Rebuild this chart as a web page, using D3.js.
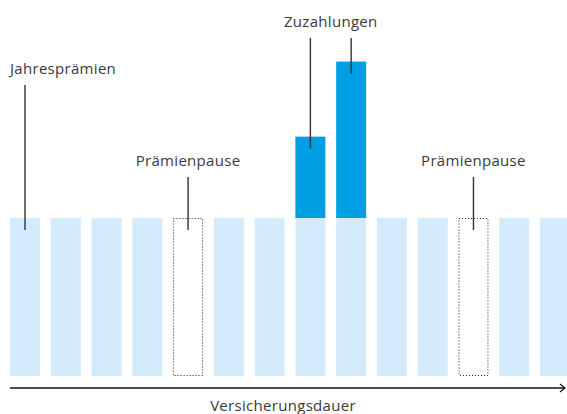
<!DOCTYPE html>
<html>
<head>
<meta charset="utf-8">
<script src="https://cdn.jsdelivr.net/npm/d3@7"></script>
<style>
  body { margin: 0; background: #fff; }
  text { font-family: "Open Sans", "Noto Sans", sans-serif; fill: #3a3a3a; }
</style>
</head>
<body>
<div id="chart"></div>
<script>
// years of the policy, one bar each
const years = d3.range(1, 15);
// yearly premium paid (1 = full premium, 0 = premium pause)
const premiums = [1, 1, 1, 1, 0, 1, 1, 1, 1, 1, 1, 0, 1, 1];
// extra payments on top of the premium
const topups = [0, 0, 0, 0, 0, 0, 0, 0.515, 0.99, 0, 0, 0, 0, 0];
// callouts: label text and the years they point to
const callouts = [
    {label: "Jahresprämien", years: [1], anchor: "start"},
    {label: "Prämienpause", years: [5], anchor: "middle"},
    {label: "Zuzahlungen", years: [8, 9], anchor: "middle"},
    {label: "Prämienpause", years: [12], anchor: "middle"}
];
const axisLabel = "Versicherungsdauer";

const width = 567, height = 414;

let svg = d3.select("#chart").append("svg")
    .attr("width", width)
    .attr("height", height);

let x = d3.scaleBand()
    .domain(years)
    .range([10, 570])
    .paddingInner(0.264)
    .paddingOuter(0);

let y = d3.scaleLinear()
    .domain([0, 2])
    .range([376, 60]);

let rows = years.map((yr, i) => ({year: yr, premium: premiums[i], topup: topups[i]}));

// premium bars
svg.selectAll(".premium")
    .data(rows.filter(d => d.premium > 0))
    .enter()
    .append("rect")
    .attr("class", "premium")
    .attr("x", d => x(d.year))
    .attr("width", x.bandwidth())
    .attr("y", d => y(d.premium))
    .attr("height", d => y(0) - y(d.premium))
    .attr("fill", "#d3ebfa");

// pause boxes (dotted outline)
svg.selectAll(".pause")
    .data(rows.filter(d => d.premium === 0))
    .enter()
    .append("rect")
    .attr("class", "pause")
    .attr("x", d => x(d.year) + 0.5)
    .attr("width", x.bandwidth() - 1)
    .attr("y", y(1) + 0.5)
    .attr("height", y(0) - y(1) - 1)
    .attr("fill", "none")
    .attr("stroke", "#222")
    .attr("stroke-width", 1)
    .attr("stroke-dasharray", "1,2");

// top-up bars stacked on the premium
svg.selectAll(".topup")
    .data(rows.filter(d => d.topup > 0))
    .enter()
    .append("rect")
    .attr("class", "topup")
    .attr("x", d => x(d.year))
    .attr("width", x.bandwidth())
    .attr("y", d => y(d.premium + d.topup))
    .attr("height", d => y(d.premium) - y(d.premium + d.topup))
    .attr("fill", "#009fe3");

// callout labels + leader lines
let labelY = {"Jahresprämien": 74, "Prämienpause": 166, "Zuzahlungen": 27};
callouts.forEach(c => {
    let ly = labelY[c.label];
    let cx = c.years.map(yr => x(yr) + x.bandwidth() / 2);
    let tx = c.anchor === "start" ? x(c.years[0]) : d3.mean(cx);
    svg.append("text")
        .attr("x", tx)
        .attr("y", ly)
        .attr("text-anchor", c.anchor)
        .style("font-size", "15px")
        .style("letter-spacing", "0.3px")
        .text(c.label);
    c.years.forEach((yr, i) => {
        let r = rows.find(d => d.year === yr);
        let top = y(Math.max(1, r.premium + r.topup));
        svg.append("line")
            .attr("x1", cx[i]).attr("x2", cx[i])
            .attr("y1", ly + 11)
            .attr("y2", top + 12)
            .attr("stroke", "#333")
            .attr("stroke-width", 1.4);
    });
});

// time axis arrow
let axisY = 388;
svg.append("line")
    .attr("x1", 10).attr("x2", 565)
    .attr("y1", axisY).attr("y2", axisY)
    .attr("stroke", "#111")
    .attr("stroke-width", 1.3);
svg.append("path")
    .attr("d", `M${560},${axisY - 4}L${565},${axisY}L${560},${axisY + 4}`)
    .attr("fill", "none")
    .attr("stroke", "#111")
    .attr("stroke-width", 1.2);

svg.append("text")
    .attr("x", 283)
    .attr("y", 411)
    .attr("text-anchor", "middle")
    .style("font-size", "15px")
    .style("letter-spacing", "0.3px")
    .text(axisLabel);
</script>
</body>
</html>
